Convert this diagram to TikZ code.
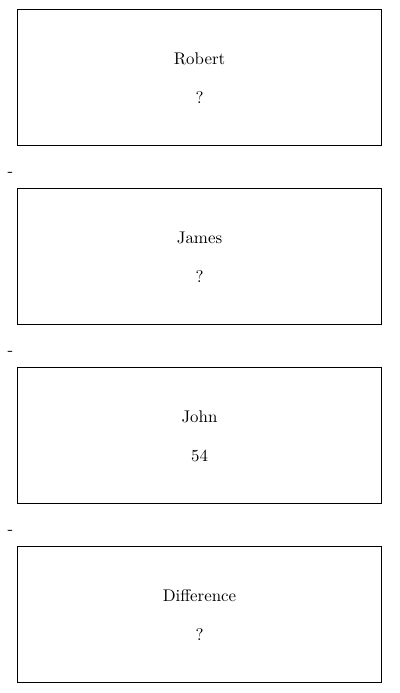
\documentclass[tikz,border=0pt]{standalone}
\usepackage{amsmath}
\usetikzlibrary{positioning}

\tikzset{
   card/.style={draw=black,line width=0.25mm,minimum width=9.075cm,minimum height=3.375cm,inner sep=0pt},
   lbl/.style={draw=none,scale=1.2,inner sep=0pt},
   sep/.style={draw=none,scale=1.2,inner sep=0pt}
}

\begin{document}
\begin{tikzpicture}[x=0.025cm,y=-0.025cm]

   \useasboundingbox (0,0) rectangle (400,693);

   % the four cards
   \node[card] (robert) at (199.5,77.5) {};
   \node[card] (james) at (199.5,256.5) {};
   \node[card] (john) at (199.5,435.5) {};
   \node[card] (diff) at (199.5,614.5) {};

   \node[lbl] (robertname) at (199.5,59) {Robert};
   \node[lbl] (robertval) at (199.5,98) {?};
   \node[lbl] (jamesname) at (199.5,238) {James};
   \node[lbl] (jamesval) at (199.5,277) {?};
   \node[lbl] (johnname) at (199.5,417) {John};
   \node[lbl] (johnval) at (199.5,456) {54};
   \node[lbl] (diffname) at (199.5,596) {Difference};
   \node[lbl] (diffval) at (199.5,635) {?};

   % minus signs between the cards
   \node[sep] (minusa) at (10.5,174) {-};
   \node[sep] (minusb) at (10.5,353) {-};
   \node[sep] (minusc) at (10.5,532) {-};

\end{tikzpicture}
\end{document}
